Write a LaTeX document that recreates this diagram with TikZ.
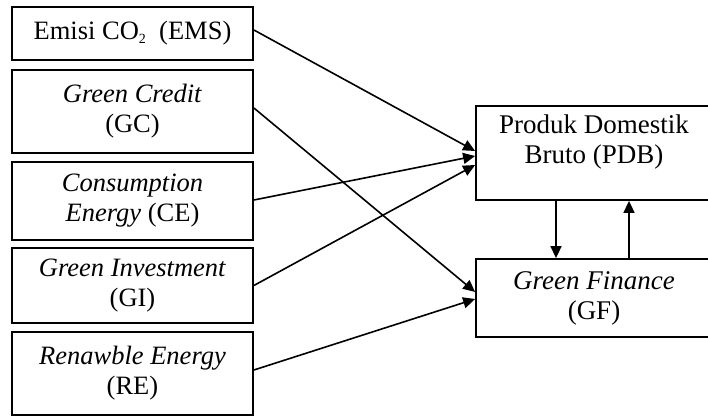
\documentclass[tikz,border=0pt]{standalone}
\usepackage{fontspec}
\setmainfont{Liberation Serif}
\usetikzlibrary{arrows.meta}
\begin{document}
\begin{tikzpicture}[x=1pt,y=1pt,
  box/.style={draw=black, line width=1.8pt, rectangle, align=center, inner sep=0pt,
    font=\fontsize{26.5}{30}\selectfont},
  lbox/.style={box, minimum width=241pt},
  rbox/.style={box, minimum width=236pt, font=\fontsize{27}{30}\selectfont},
  conn/.style={line width=1.6pt, -{Triangle[length=12pt,width=11pt]}}]
\clip (0,0) rectangle (708,417);
\fill[white] (0,0) rectangle (708,417);
\node[lbox, minimum height=53pt] (EMS) at (132.5,383.5) {Emisi CO\raisebox{-4pt}{\fontsize{14}{14}\selectfont 2}\ \ (EMS)};
\node[lbox, minimum height=83pt] (GC) at (132.5,305.5) {\textit{Green Credit}\\(GC)};
\node[lbox, minimum height=78pt] (CE) at (132.5,216) {\textit{Consumption}\\\textit{Energy} (CE)};
\node[lbox, minimum height=75pt] (GI) at (132.5,131.5) {\textit{Green Investment}\\(GI)};
\node[lbox, minimum height=83pt] (RE) at (132.5,43.5) {\textit{Renawble Energy}\\(RE)};
\node[rbox, minimum height=94pt] (PDB) at (594,264) {\raisebox{10pt}[\height][\depth]{\begin{tabular}{@{}c@{}}Produk Domestik\\Bruto (PDB)\end{tabular}}};
\node[rbox, minimum height=78pt] (GF) at (594,119) {\textit{Green Finance}\\(GF)};
\draw[conn] ([yshift=3.5pt]EMS.east) -- ([yshift=2pt]PDB.west);
\draw[conn] ([yshift=3.5pt]GC.east) -- ([yshift=6pt]GF.west);
\draw[conn] ([yshift=1pt]CE.east) -- ([yshift=-3pt]PDB.west);
\draw[conn] (GI.east) -- ([yshift=-12pt]PDB.west);
\draw[conn] ([yshift=3.5pt]RE.east) -- ([yshift=-1pt]GF.west);
\draw[conn] ([xshift=-38pt]PDB.south) -- ([xshift=-38pt]GF.north);
\draw[conn] ([xshift=35pt]GF.north) -- ([xshift=35pt]PDB.south);
\end{tikzpicture}
\end{document}
